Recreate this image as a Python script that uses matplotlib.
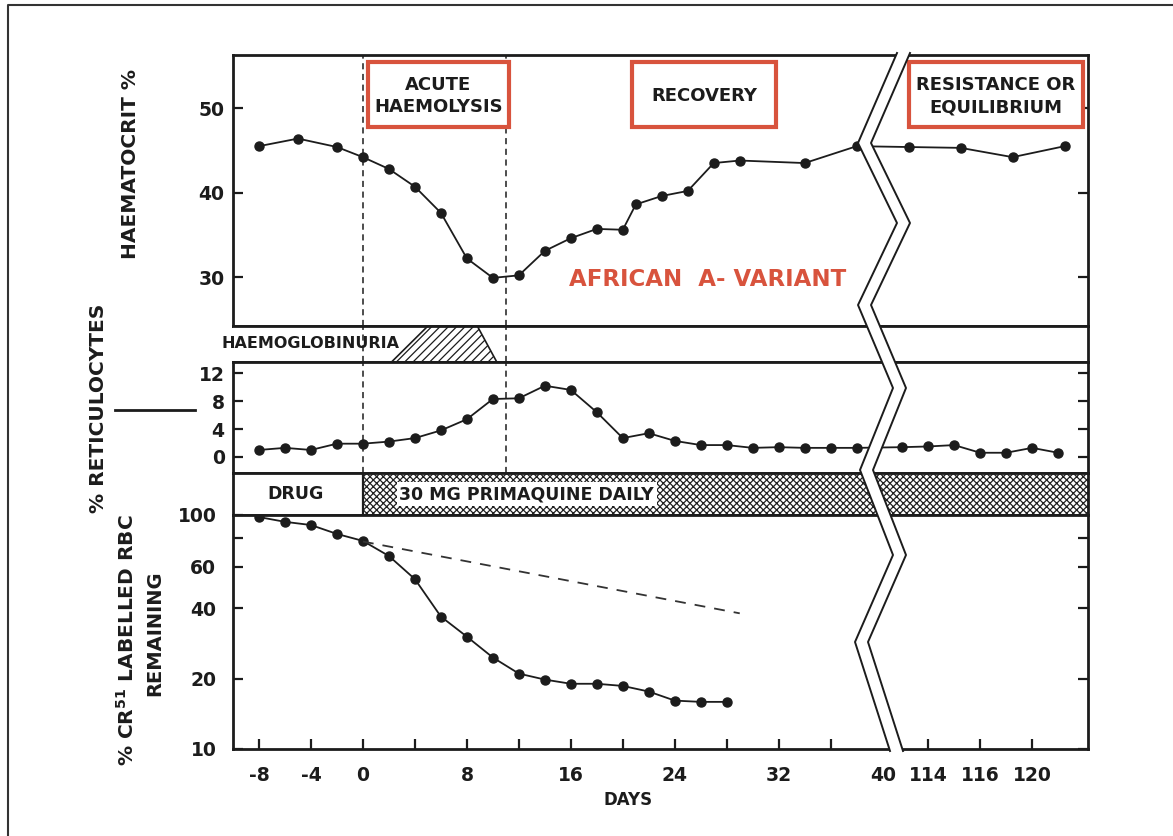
import matplotlib
matplotlib.use("Agg")
import matplotlib.pyplot as plt
from matplotlib.patches import Rectangle, Polygon
from matplotlib.ticker import NullLocator, NullFormatter

# ---------------- DATA ----------------
hct_days = [-8, -5, -2, 0, 2, 4, 6, 8, 10, 12, 14, 16, 18, 20, 21, 23, 25, 27, 29, 34, 38]
hct = [45.5, 46.4, 45.4, 44.2, 42.8, 40.7, 37.6, 32.2, 29.9, 30.2, 33.1, 34.6, 35.7, 35.6,
       38.6, 39.6, 40.2, 43.5, 43.8, 43.5, 45.5]
hct_late_days = [110.5, 114.5, 118.5, 122.5]
hct_late = [45.4, 45.3, 44.2, 45.5]

retic_days = list(range(-8, 40, 2))
retic = [1.0, 1.3, 1.0, 1.9, 1.9, 2.2, 2.7, 3.8, 5.4, 8.3, 8.4, 10.2, 9.6, 6.4, 2.7, 3.4,
         2.3, 1.7, 1.7, 1.3, 1.4, 1.3, 1.3, 1.3]
retic_late_days = [110, 112, 114, 116, 118, 120, 122]
retic_late = [1.4, 1.5, 1.7, 0.6, 0.6, 1.3, 0.6]

rbc_days = list(range(-8, 30, 2))
rbc = [98, 93.5, 90.6, 83, 77.5, 66.8, 53.2, 36.8, 30.2, 24.6, 21.0, 19.8, 19.0, 19.0,
       18.6, 17.6, 16.1, 15.9, 15.9]
normal_days = [0, 29]
normal_rbc = [77, 38]

phase_days = [0, 11]
hburia_days = [2.2, 5.0, 8.8, 10.3]
hburia_level = [0, 1, 1, 0]
drug_start = 0

early_ticks = list(range(-8, 44, 4))
early_labels = ["-8", "-4", "0", "", "8", "", "16", "", "24", "", "32", "", "40"]
late_ticks = [112, 116, 120]
late_labels = ["114", "116", "120"]

LATE_SHIFT = 68.5   # days cut out by the axis break

# ---------------- LAYOUT (pixels) ----------------
W, H = 1173, 836
L, R = 233, 1088
INK = "#1c1c1c"
RED = "#d8533d"


def box(x0, y0, x1, y1):
    return [x0 / W, 1 - y1 / H, (x1 - x0) / W, (y1 - y0) / H]


def late(days):
    return [d - LATE_SHIFT for d in days]


plt.rcParams["font.family"] = "DejaVu Sans"
plt.rcParams["font.weight"] = "bold"
plt.rcParams["mathtext.default"] = "bf"
plt.rcParams["hatch.linewidth"] = 0.9
plt.rcParams["text.color"] = INK

fig = plt.figure(figsize=(W / 100, H / 100), dpi=100)

ax_hct = fig.add_axes(box(L, 55, R, 326))
ax_hb = fig.add_axes(box(L, 326, R, 362), sharex=ax_hct)
ax_ret = fig.add_axes(box(L, 362, R, 473), sharex=ax_hct)
ax_drug = fig.add_axes(box(L, 473, R, 515), sharex=ax_hct)
ax_rbc = fig.add_axes(box(L, 515, R, 749), sharex=ax_hct)

for ax in [ax_hct, ax_hb, ax_ret, ax_drug, ax_rbc]:
    for s in ax.spines.values():
        s.set_linewidth(2)
        s.set_color(INK)
    ax.tick_params(direction="in", length=7, width=1.6, colors=INK, labelsize=13.5,
                   left=True, right=True, bottom=False, top=False,
                   labelbottom=False, pad=6)

ax_hct.set_xlim(-10, 55.8)

# ---------------- HAEMATOCRIT ----------------
ax_hct.plot(hct_days + late(hct_late_days), hct + hct_late, "-o", color=INK, lw=1.3, ms=6.5)
ax_hct.set_ylim(24.2, 56.3)
ax_hct.set_yticks([30, 40, 50])

# ---------------- HAEMOGLOBINURIA BAND ----------------
ax_hb.set_ylim(0, 1)
ax_hb.spines["left"].set_visible(False)
ax_hb.tick_params(left=False, right=False, labelleft=False)
ax_hb.add_patch(Polygon(list(zip(hburia_days, hburia_level)), closed=True,
                        facecolor="white", edgecolor=INK, hatch="////", lw=1.2))
ax_hb.text(-10.85, 0.5, "HAEMOGLOBINURIA", ha="left", va="center", fontsize=11.5)

# ---------------- RETICULOCYTES ----------------
ax_ret.plot(retic_days + late(retic_late_days), retic + retic_late, "-o", color=INK,
            lw=1.3, ms=6.5)
ax_ret.set_ylim(-2.3, 13.6)
ax_ret.set_yticks([0, 4, 8, 12])

for ax in [ax_hct, ax_hb, ax_ret]:
    for d in phase_days:
        ax.axvline(d, color=INK, lw=1.1, ls=(0, (4, 3)))

# ---------------- DRUG BAND ----------------
ax_drug.set_ylim(0, 1)
ax_drug.tick_params(left=False, right=False, labelleft=False)
ax_drug.add_patch(Rectangle((drug_start, 0), 70, 1, facecolor="white", edgecolor="#222222",
                            hatch="xxxxx", lw=0))
ax_drug.axvline(drug_start, color=INK, lw=1.6)
ax_drug.text(-5.2, 0.5, "DRUG", ha="center", va="center", fontsize=12.5)
ax_drug.text(2.8, 0.5, "30 MG PRIMAQUINE DAILY", ha="left", va="center", fontsize=12.5,
             bbox=dict(facecolor="white", edgecolor="none", pad=2))

# ---------------- CR51 RBC SURVIVAL ----------------
ax_rbc.plot(rbc_days, rbc, "-o", color=INK, lw=1.3, ms=6.5)
ax_rbc.plot(normal_days, normal_rbc, color="#333333", lw=1.3, ls=(0, (6, 5)))
ax_rbc.set_yscale("log")
ax_rbc.set_ylim(10, 100)
ax_rbc.set_yticks([10, 20, 40, 60, 80, 100])
ax_rbc.set_yticklabels(["10", "20", "40", "60", "", "100"])
ax_rbc.yaxis.set_minor_locator(NullLocator())
ax_rbc.yaxis.set_minor_formatter(NullFormatter())

xt = early_ticks + late(late_ticks)
ax_rbc.set_xticks(xt)
ax_rbc.set_xticklabels(early_labels + late_labels)
ax_rbc.tick_params(bottom=True, labelbottom=True, pad=12)
for t, v in zip(ax_rbc.xaxis.get_major_ticks(), xt):
    if v == 40:
        t.tick1line.set_visible(False)

# ---------------- LABELS ----------------
fig.text(130 / W, 1 - 164 / H, "HAEMATOCRIT %", rotation=90, ha="center", va="center",
         fontsize=14.5)
fig.text(98 / W, 1 - 408 / H, "% RETICULOCYTES", rotation=90, ha="center", va="center",
         fontsize=14.5)
fig.text(127 / W, 1 - 640 / H, "% CR$^{51}$ LABELLED RBC", rotation=90, ha="center",
         va="center", fontsize=14.5)
fig.text(155 / W, 1 - 633 / H, "REMAINING", rotation=90, ha="center", va="center",
         fontsize=14)
fig.text(628 / W, 1 - 800 / H, "DAYS", ha="center", va="center", fontsize=12)

# ---------------- OVERLAY: break, phase boxes, frame ----------------
ov = fig.add_axes([0, 0, 1, 1], zorder=10)
ov.set_xlim(0, W)
ov.set_ylim(H, 0)
ov.axis("off")

zig_x = [897, 858, 897, 858, 893, 860, 893, 855, 890]
zig_y = [53, 143, 223, 305, 388, 470, 555, 642, 751]
gap = 13
pts = list(zip(zig_x, zig_y)) + [(x + gap, y) for x, y in zip(zig_x[::-1], zig_y[::-1])]
ov.add_patch(Polygon(pts, closed=True, facecolor="white", edgecolor="none"))
ov.plot(zig_x, zig_y, color=INK, lw=1.4)
ov.plot([x + gap for x in zig_x], zig_y, color=INK, lw=1.4)

phases = [(368, 509, "ACUTE\nHAEMOLYSIS"), (632, 776, "RECOVERY"),
          (909, 1083, "RESISTANCE OR\nEQUILIBRIUM")]
for x0, x1, label in phases:
    ov.add_patch(Rectangle((x0, 62), x1 - x0, 65, facecolor="white", edgecolor=RED, lw=3))
    ov.text((x0 + x1) / 2, 96, label, ha="center", va="center", fontsize=13,
            linespacing=1.35)

ov.text(708, 279, "AFRICAN  A- VARIANT", color=RED, ha="center", va="center", fontsize=16.5)

ov.plot([115, 195], [410, 410], color=INK, lw=2)
ov.plot([8, 8, W], [H, 5, 5], color="#333333", lw=1.5)

fig.savefig("out.png", dpi=100)
